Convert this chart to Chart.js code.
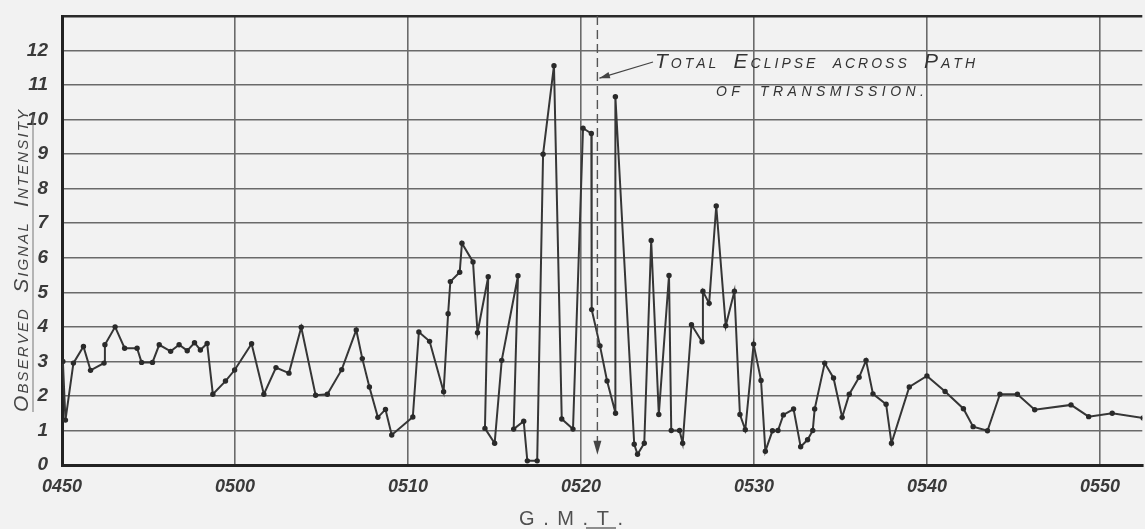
<!DOCTYPE html>
<html><head><meta charset="utf-8">
<script src="https://cdn.jsdelivr.net/npm/chart.js@4.4.1/dist/chart.umd.min.js"></script>
<style>html,body{margin:0;padding:0;background:#f2f2f2;} canvas{display:block;}</style>
</head><body>
<canvas id="c" width="1145" height="529"></canvas>
<script>
// minutes after 04:50 GMT
const minutes = [0.05,0.2,0.66,1.24,1.65,2.43,2.48,3.07,3.62,4.34,4.60,5.23,5.62,6.28,6.77,7.24,7.66,8.00,8.39,8.72,9.45,9.98,
  10.96,11.67,12.37,13.12,13.83,14.66,15.34,16.17,17.01,17.36,17.77,18.26,18.70,19.06,20.28,20.63,21.25,22.06,22.32,22.45,22.99,23.12,23.76,24.02,24.64,24.45,25.01,25.42,26.36,26.11,26.69,26.90,27.47,27.81,28.44,28.89,29.54,
  30.12,30.60,30.62,31.10,31.51,32.0,31.99,33.08,33.27,33.66,34.06,34.50,35.09,35.22,35.70,35.88,36.39,37.00,37.05,37.41,37.82,38.37,38.87,39.19,39.50,39.98,
  40.41,40.66,41.07,41.39,41.70,42.29,42.70,43.10,43.40,43.51,44.09,44.60,45.10,45.51,46.08,46.48,46.88,47.64,47.95,48.98,
  50.0,51.05,52.11,52.67,53.50,54.22,55.23,56.23,58.33,59.35,60.71,62.5];
const intensity = [3.0,1.3,2.95,3.43,2.74,2.95,3.48,4.0,3.38,3.38,2.97,2.97,3.48,3.29,3.48,3.31,3.54,3.33,3.52,2.05,2.43,2.75,
  3.51,2.05,2.82,2.66,3.99,2.02,2.05,2.76,3.91,3.08,2.26,1.38,1.61,0.87,1.39,3.85,3.58,2.12,4.38,5.31,5.58,6.42,5.88,3.83,5.45,1.06,0.63,3.03,5.48,1.04,1.27,0.12,0.12,9.0,11.56,1.33,1.04,
  9.75,9.6,4.5,3.45,2.43,1.5,10.66,0.6,0.31,0.63,6.5,1.46,5.49,1.0,1.0,0.63,4.06,3.57,5.03,4.68,7.5,4.03,5.03,1.46,1.02,3.5,
  2.45,0.4,0.99,1.0,1.45,1.62,0.53,0.73,1.0,1.62,2.95,2.52,1.38,2.05,2.54,3.03,2.06,1.76,0.63,2.26,
  2.58,2.13,1.63,1.11,0.99,2.05,2.05,1.60,1.74,1.40,1.50,1.36];
const xTickLabels = ['0450','0500','0510','0520','0530','0540','0550'];
const yTickLabels = ['0','1','2','3','4','5','6','7','8','9','10','11','12'];
const eclipseMinute = 30.95;
const yAxisTitle = 'OBSERVED SIGNAL INTENSITY';
const xAxisTitle = 'G.M.T.';
const noteLines = ['TOTAL ECLIPSE ACROSS PATH', 'OF TRANSMISSION.'];

const INK = '#363636';
const FONT = '"Liberation Sans", Arial, sans-serif';

// draw text char by char, first letter of flagged words bigger, stretched to a width
function drawCaps(ctx, text, x, y, width, big, small, bigFirst, weight) {
  const words = text.split(' ');
  const items = [];
  const w8 = weight || 'normal';
  words.forEach((w, wi) => {
    [...w].forEach((ch, ci) => {
      const isBig = bigFirst && ci === 0 && bigFirst[wi];
      items.push({ch, font: 'italic ' + w8 + ' ' + (isBig ? big : small) + 'px ' + FONT});
    });
    if (wi < words.length - 1) items.push({ch: ' ', font: 'italic ' + small + 'px ' + FONT, space: true});
  });
  let natural = 0;
  items.forEach(it => { ctx.font = it.font; it.w = it.space ? small * 0.8 : ctx.measureText(it.ch).width; natural += it.w; });
  const gap = (width - natural) / (items.length - 1);
  let cx = x;
  items.forEach(it => {
    ctx.font = it.font;
    if (!it.space) ctx.fillText(it.ch, cx, y);
    cx += it.w + gap;
  });
}

const decor = {
  id: 'decor',
  afterDraw(chart) {
    const ctx = chart.ctx;
    const xs = chart.scales.x, ys = chart.scales.y;
    ctx.save();
    ctx.fillStyle = '#444';
    ctx.textBaseline = 'alphabetic';
    ctx.textAlign = 'left';
    // y axis title (rotated)
    ctx.save();
    ctx.translate(28, 412);
    ctx.rotate(-Math.PI / 2);
    drawCaps(ctx, yAxisTitle, 0, 0, 302, 21, 15, [true, true, true]);
    ctx.restore();
    ctx.strokeStyle = '#777';
    ctx.lineWidth = 1;
    ctx.beginPath(); ctx.moveTo(33, 115); ctx.lineTo(33, 412); ctx.stroke();

    // x axis title
    ctx.fillStyle = '#505050';
    ctx.font = '20px ' + FONT;
    let cx = 519;
    const chars = [...xAxisTitle];
    const total = 104;
    let nat = 0; chars.forEach(c => nat += ctx.measureText(c).width);
    const g = (total - nat) / (chars.length - 1);
    chars.forEach(c => { ctx.fillText(c, cx, 525); cx += ctx.measureText(c).width + g; });
    ctx.strokeStyle = '#555'; ctx.lineWidth = 1.3;
    ctx.beginPath(); ctx.moveTo(586, 528); ctx.lineTo(616, 528); ctx.stroke();

    // eclipse dashed line
    const ex = xs.getPixelForValue(eclipseMinute);
    const top = chart.chartArea.top;
    const tipY = ys.getPixelForValue(0.3);
    ctx.strokeStyle = '#555';
    ctx.lineWidth = 1.4;
    ctx.setLineDash([9, 5]);
    ctx.beginPath(); ctx.moveTo(ex, top); ctx.lineTo(ex, tipY - 10); ctx.stroke();
    ctx.setLineDash([]);
    ctx.fillStyle = '#444';
    ctx.beginPath(); ctx.moveTo(ex - 4, tipY - 14); ctx.lineTo(ex + 4, tipY - 14); ctx.lineTo(ex, tipY); ctx.closePath(); ctx.fill();

    // note arrow
    const ay = ys.getPixelForValue(11.2);
    ctx.strokeStyle = '#444'; ctx.lineWidth = 1.2;
    const sx = 653, sy = 62;
    ctx.beginPath(); ctx.moveTo(sx, sy); ctx.lineTo(ex + 2, ay); ctx.stroke();
    const ang = Math.atan2(ay - sy, ex + 2 - sx);
    ctx.beginPath();
    ctx.moveTo(ex + 2, ay);
    ctx.lineTo(ex + 2 - 11 * Math.cos(ang - 0.3), ay - 11 * Math.sin(ang - 0.3));
    ctx.lineTo(ex + 2 - 11 * Math.cos(ang + 0.3), ay - 11 * Math.sin(ang + 0.3));
    ctx.closePath(); ctx.fill();

    // note text
    ctx.fillStyle = '#333';
    drawCaps(ctx, noteLines[0], 655, 68, 320, 21, 14, [true, true, false, true]);
    drawCaps(ctx, noteLines[1], 716, 96, 208, 21, 14, [false, false]);
    ctx.restore();
  }
};

const chart = new Chart(document.getElementById('c'), {
  type: 'scatter',
  data: {
    datasets: [{
      data: minutes.map((m, i) => ({x: m, y: intensity[i]})),
      showLine: true,
      borderColor: INK,
      borderWidth: 2,
      pointRadius: 2.7,
      pointHoverRadius: 2.7,
      pointBackgroundColor: '#2a2a2a',
      pointBorderWidth: 0,
      tension: 0
    }]
  },
  options: {
    responsive: false,
    animation: false,
    events: [],
    layout: {padding: {top: 16, right: 0, left: 0, bottom: 0}},
    plugins: {legend: {display: false}, tooltip: {enabled: false}},
    scales: {
      x: {
        type: 'linear', min: 0, max: 62.45,
        afterFit(s) { s.height = 64; s.paddingLeft = 0; s.paddingRight = 0; },
        border: {display: true, color: '#222', width: 3},
        grid: {color: '#6a6a6a', lineWidth: 1.6, drawTicks: false},
        ticks: {
          stepSize: 10, includeBounds: false, padding: 11, maxRotation: 0,
          color: '#3a3a3a', font: {family: FONT, size: 18, style: 'italic', weight: 'bold'},
          callback: v => xTickLabels[Math.round(v / 10)] ?? ''
        }
      },
      y: {
        type: 'linear', min: 0, max: 13,
        afterFit(s) { s.width = 62; s.paddingTop = 0; s.paddingBottom = 0; },
        border: {display: true, color: '#222', width: 3},
        grid: {
          color: c => c.tick && c.tick.value === 13 ? '#2a2a2a' : '#6a6a6a',
          lineWidth: c => c.tick && c.tick.value === 13 ? 2.5 : 1.6,
          drawTicks: false
        },
        ticks: {
          stepSize: 1, padding: 14,
          color: '#3a3a3a', font: {family: FONT, size: 19, style: 'italic', weight: 'bold'},
          callback: v => v <= 12 ? yTickLabels[v] : ''
        }
      }
    }
  },
  plugins: [decor]
});
</script>
</body></html>
